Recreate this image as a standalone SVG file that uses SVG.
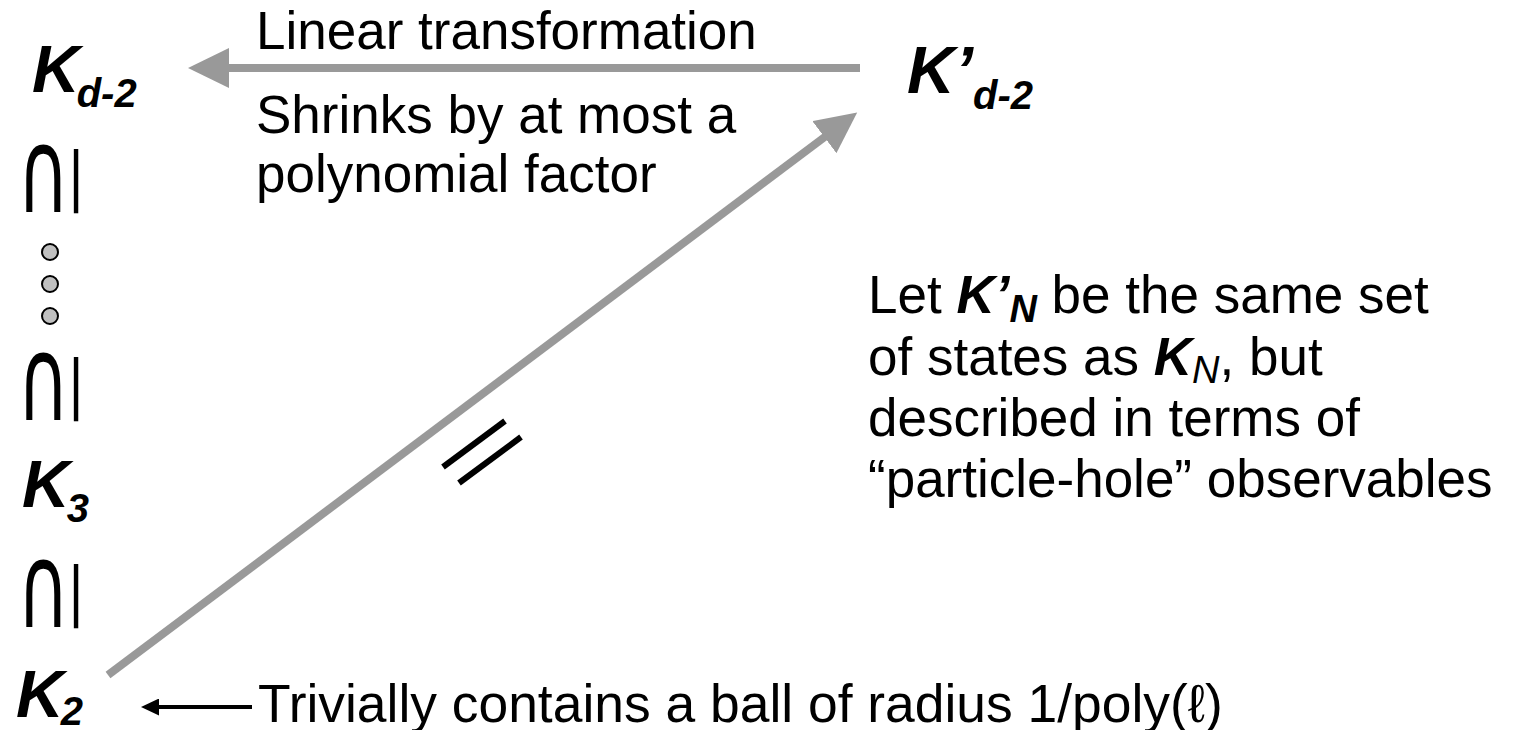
<svg xmlns="http://www.w3.org/2000/svg" width="1518" height="730" viewBox="0 0 1518 730">
  <style>
    .t { font-family: "Liberation Sans", Arial, sans-serif; font-size: 53px; fill: #000; }
    .k { font-family: "Liberation Sans", Arial, sans-serif; font-weight: bold; font-style: italic; font-size: 66px; fill: #000; }
    .bi { font-weight: bold; font-style: italic; }
    .it { font-style: italic; }
    .sub { font-size: 40px; }
    .nsub { font-size: 38px; }
    .sym { font-family: "DejaVu Sans", sans-serif; font-size: 72px; fill: #000; }
    .bar { font-size: 40px; font-weight: bold; }
    .gray { stroke: #999999; stroke-width: 8; fill: none; }
    .blk { stroke: #000; stroke-width: 4; fill: none; }
    .tick { stroke: #000; stroke-width: 6; }
    .dot { fill: #c0c0c0; stroke: #000; stroke-width: 2; }
  </style>
  <defs>
    <marker id="grayHead" markerUnits="userSpaceOnUse" viewBox="0 0 42 40" markerWidth="42" markerHeight="40" refX="1" refY="20" orient="auto">
      <path d="M0,0 L41,20 L0,40 Z" fill="#999999"/>
    </marker>
    <marker id="blackHead" markerUnits="userSpaceOnUse" viewBox="0 0 19 17" markerWidth="19" markerHeight="17" refX="1" refY="8.5" orient="auto">
      <path d="M0,0 L18,8.5 L0,17 Z" fill="#000"/>
    </marker>
  </defs>

  <g id="connectors">
    <line class="gray" x1="860" y1="68" x2="228" y2="68" marker-end="url(#grayHead)"/>
    <line class="gray" x1="108" y1="675" x2="825.2" y2="136.6" marker-end="url(#grayHead)"/>
    <line class="blk" x1="252" y1="707" x2="158" y2="707" marker-end="url(#blackHead)"/>
    <g id="equal-mark">
      <line class="tick" x1="443" y1="467" x2="505" y2="421"/>
      <line class="tick" x1="459" y1="483" x2="521" y2="437"/>
    </g>
  </g>

  <g id="containment">
    <text class="sym" transform="translate(17,212) scale(1,1.62)">∩<tspan class="bar" dx="-1" dy="-8.4">|</tspan></text>
    <text class="sym" transform="translate(17,420) scale(1,1.62)">∩<tspan class="bar" dx="-1" dy="-8.4">|</tspan></text>
    <text class="sym" transform="translate(17,627) scale(1,1.62)">∩<tspan class="bar" dx="-1" dy="-8.4">|</tspan></text>
  </g>

  <g id="dots">
    <circle class="dot" cx="50" cy="252" r="8"/>
    <circle class="dot" cx="50" cy="284" r="8"/>
    <circle class="dot" cx="50" cy="316" r="8"/>
  </g>

  <g id="node-Kd2">
    <text class="k" x="32" y="92">K<tspan class="sub" dx="-3" dy="15">d-2</tspan></text>
  </g>
  <g id="node-Kpd2">
    <text class="k" x="907" y="93">K’<tspan class="sub" dy="16">d-2</tspan></text>
  </g>
  <g id="node-K3">
    <text class="k" x="22" y="507">K<tspan class="sub" dx="-3" dy="15">3</tspan></text>
  </g>
  <g id="node-K2">
    <text class="k" x="16" y="717">K<tspan class="sub" dx="-3" dy="8">2</tspan></text>
  </g>

  <g id="label-linear">
    <text class="t" x="256" y="49">Linear transformation</text>
    <text class="t" x="256" y="133">Shrinks by at most a</text>
    <text class="t" x="256" y="192">polynomial factor</text>
  </g>

  <g id="label-let">
    <text class="t" x="868" y="313">Let <tspan class="bi">K’</tspan><tspan class="bi nsub" dy="9">N</tspan><tspan dy="-9"> be the same set</tspan></text>
    <text class="t" x="868" y="375">of states as <tspan class="bi">K</tspan><tspan class="it nsub" dy="8">N</tspan><tspan dy="-8">, but</tspan></text>
    <text class="t" x="868" y="436">described in terms of</text>
    <text class="t" x="868" y="497">“particle-hole” observables</text>
  </g>

  <g id="label-trivially">
    <text class="t" x="258" y="722" style="font-size:53.4px">Trivially contains a ball of radius 1/poly(ℓ)</text>
  </g>
</svg>
